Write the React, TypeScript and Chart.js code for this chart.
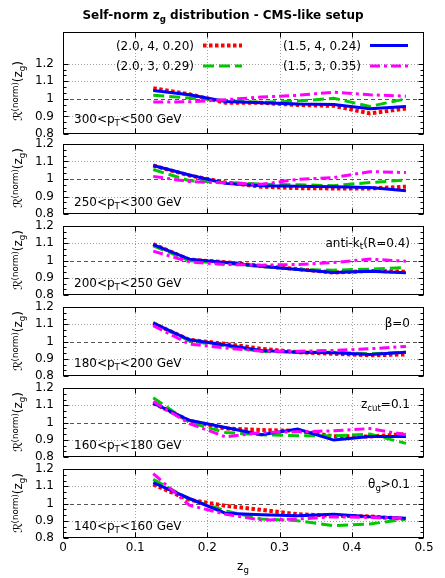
import React, { useEffect, useRef } from 'react';
import { Chart, registerables } from 'chart.js';
Chart.register(...registerables);

const FONT = "'DejaVu Sans', 'Noto Sans', sans-serif";

// ---- data ----
const zgBins = [0.125, 0.175, 0.225, 0.275, 0.325, 0.375, 0.425, 0.475];
const xTickValues = [0, 0.1, 0.2, 0.3, 0.4, 0.5];
const yTickValues = [0.8, 0.9, 1, 1.1, 1.2];
const seriesNames = ['(2.0, 4, 0.20)', '(2.0, 3, 0.29)', '(1.5, 4, 0.24)', '(1.5, 3, 0.35)'];

// A = (2.0, 4, 0.20), B = (2.0, 3, 0.29), C = (1.5, 4, 0.24), D = (1.5, 3, 0.35)
const pt300_500_A = [1.06, 1.026, 0.978, 0.977, 0.965, 0.96, 0.917, 0.945];
const pt300_500_B = [1.02, 1.005, 0.99, 0.98, 0.987, 1.003, 0.957, 1.0];
const pt300_500_C = [1.047, 1.023, 0.985, 0.977, 0.97, 0.968, 0.943, 0.957];
const pt300_500_D = [0.982, 0.983, 0.995, 1.01, 1.02, 1.038, 1.023, 1.015];

const pt250_300_A = [1.077, 1.02, 0.98, 0.956, 0.948, 0.946, 0.946, 0.956];
const pt250_300_B = [1.054, 0.99, 0.98, 0.97, 0.967, 0.962, 0.98, 0.994];
const pt250_300_C = [1.077, 1.023, 0.975, 0.962, 0.958, 0.956, 0.952, 0.933];
const pt250_300_D = [1.015, 0.985, 0.978, 0.97, 0.998, 1.008, 1.042, 1.037];

const pt200_250_A = [1.095, 1.005, 0.99, 0.968, 0.95, 0.93, 0.94, 0.935];
const pt200_250_B = [1.085, 0.998, 0.983, 0.965, 0.948, 0.944, 0.95, 0.96];
const pt200_250_C = [1.092, 1.008, 0.988, 0.967, 0.948, 0.931, 0.938, 0.929];
const pt200_250_D = [1.054, 0.992, 0.977, 0.973, 0.977, 0.988, 1.008, 0.996];

const pt180_200_A = [1.105, 1.01, 0.986, 0.958, 0.938, 0.929, 0.92, 0.925];
const pt180_200_B = [1.11, 1.004, 0.973, 0.942, 0.938, 0.938, 0.929, 0.938];
const pt180_200_C = [1.106, 1.01, 0.98, 0.948, 0.938, 0.935, 0.925, 0.938];
const pt180_200_D = [1.092, 0.985, 0.962, 0.944, 0.944, 0.948, 0.958, 0.971];

const pt160_180_A = [1.112, 1.01, 0.965, 0.956, 0.952, 0.92, 0.919, 0.933];
const pt160_180_B = [1.144, 1.0, 0.942, 0.929, 0.923, 0.923, 0.933, 0.879];
const pt160_180_C = [1.112, 1.013, 0.971, 0.929, 0.962, 0.898, 0.919, 0.919];
const pt160_180_D = [1.121, 0.994, 0.917, 0.942, 0.946, 0.952, 0.965, 0.929];

const pt140_160_A = [1.11, 1.021, 0.987, 0.963, 0.938, 0.929, 0.925, 0.91];
const pt140_160_B = [1.14, 1.025, 0.958, 0.91, 0.9, 0.871, 0.881, 0.91];
const pt140_160_C = [1.121, 1.029, 0.944, 0.935, 0.929, 0.938, 0.923, 0.915];
const pt140_160_D = [1.173, 0.99, 0.938, 0.904, 0.91, 0.923, 0.919, 0.915];

const panelSeries = [
  [pt300_500_A, pt300_500_B, pt300_500_C, pt300_500_D],
  [pt250_300_A, pt250_300_B, pt250_300_C, pt250_300_D],
  [pt200_250_A, pt200_250_B, pt200_250_C, pt200_250_D],
  [pt180_200_A, pt180_200_B, pt180_200_C, pt180_200_D],
  [pt160_180_A, pt160_180_B, pt160_180_C, pt160_180_D],
  [pt140_160_A, pt140_160_B, pt140_160_C, pt140_160_D],
];

const ptRanges = [
  ['300', '500'],
  ['250', '300'],
  ['200', '250'],
  ['180', '200'],
  ['160', '180'],
  ['140', '160'],
];

// ---- styles / layout ----
const seriesStyles = [
  { color: '#ff0000', width: 4, dash: [3.5, 2.5] },
  { color: '#00c800', width: 3, dash: [11, 5] },
  { color: '#0000ff', width: 3, dash: [] as number[] },
  { color: '#ff00ff', width: 3, dash: [10, 4, 3, 4] },
];

const CANVAS_W = 445;
const PLOT_LEFT = 63;
const PLOT_RIGHT = 424;
const PAD = 18;
const XAXIS_H = 22;

const panelLayout = [
  { top: 32, height: 102, yMax: 1.38 },
  { top: 144, height: 70, yMax: 1.2 },
  { top: 226, height: 69, yMax: 1.2 },
  { top: 307, height: 69, yMax: 1.2 },
  { top: 388, height: 69, yMax: 1.2 },
  { top: 469, height: 69, yMax: 1.2 },
];

const leftLabelY = [119, 202, 283, 363, 445, 526];
const ylabelY = [91, 178, 260, 341, 422, 503];

function line(ctx: CanvasRenderingContext2D, x1: number, y1: number, x2: number, y2: number) {
  ctx.beginPath();
  ctx.moveTo(x1, y1);
  ctx.lineTo(x2, y2);
  ctx.stroke();
}

const framePlugin = {
  id: 'gnuFrame',
  beforeDatasetsDraw(chart: any) {
    const { ctx, chartArea: a } = chart;
    const x = chart.scales.x;
    const y = chart.scales.y;
    ctx.save();
    ctx.lineWidth = 1;
    ctx.strokeStyle = '#a0a0a0';
    ctx.setLineDash([1, 2]);
    for (const v of xTickValues) {
      if (v <= x.min || v >= x.max) continue;
      const px = Math.round(x.getPixelForValue(v)) + 0.5;
      line(ctx, px, a.top, px, a.bottom);
    }
    for (const v of yTickValues) {
      if (v <= y.min || v >= y.max || v === 1) continue;
      const py = Math.round(y.getPixelForValue(v)) + 0.5;
      line(ctx, a.left, py, a.right, py);
    }
    ctx.strokeStyle = '#555555';
    ctx.setLineDash([4, 3]);
    const p1 = Math.round(y.getPixelForValue(1)) + 0.5;
    line(ctx, a.left, p1, a.right, p1);
    ctx.restore();
  },
  afterDatasetsDraw(chart: any) {
    const { ctx, chartArea: a } = chart;
    const x = chart.scales.x;
    const y = chart.scales.y;
    ctx.save();
    ctx.lineWidth = 1;
    ctx.strokeStyle = '#000';
    ctx.setLineDash([]);
    const L = Math.round(a.left) + 0.5;
    const R = Math.round(a.right) - 0.5;
    const T = Math.round(a.top) + 0.5;
    const B = Math.round(a.bottom) - 0.5;
    ctx.strokeRect(L, T, R - L, B - T);
    for (let i = 0; i < yTickValues.length; i++) {
      const v = yTickValues[i];
      const py = Math.round(y.getPixelForValue(v)) + 0.5;
      line(ctx, L, py, L + 5, py);
      line(ctx, R, py, R - 5, py);
      if (i < yTickValues.length - 1) {
        const step = (yTickValues[i + 1] - v) / 3;
        for (let k = 1; k < 3; k++) {
          const pm = Math.round(y.getPixelForValue(v + k * step)) + 0.5;
          line(ctx, L, pm, L + 3, pm);
          line(ctx, R, pm, R - 3, pm);
        }
      }
    }
    for (const v of xTickValues) {
      if (v <= x.min || v >= x.max) continue;
      const px = Math.round(x.getPixelForValue(v)) + 0.5;
      line(ctx, px, B, px, B - 5);
      line(ctx, px, T, px, T + 5);
    }
    ctx.restore();
  },
};

const legendPlugin = {
  id: 'gnuLegend',
  afterDatasetsDraw(chart: any) {
    const ctx = chart.ctx;
    const offTop = panelLayout[0].top - PAD;
    const rows = [45.5, 66];
    const cols = [[203, 242], [370, 408]];
    ctx.save();
    [0, 1, 2, 3].forEach((s) => {
      const col = Math.floor(s / 2);
      const row = s % 2;
      const st = seriesStyles[s];
      ctx.strokeStyle = st.color;
      ctx.lineWidth = st.width;
      ctx.setLineDash(st.dash);
      const yy = rows[row] - offTop;
      line(ctx, cols[col][0], yy, cols[col][1], yy);
    });
    ctx.restore();
  },
};

function PanelChart({ idx }: { idx: number }) {
  const ref = useRef<HTMLCanvasElement>(null);
  const lay = panelLayout[idx];
  const isBottom = idx === panelLayout.length - 1;
  const canvasH = lay.height + 2 * PAD + (isBottom ? XAXIS_H : 0);
  useEffect(() => {
    if (!ref.current) return;
    const values = panelSeries[idx];
    const datasets = [3, 2, 1, 0].map((s) => ({
      label: seriesNames[s],
      data: zgBins.map((xv, i) => ({ x: xv, y: values[s][i] })),
      borderColor: seriesStyles[s].color,
      backgroundColor: seriesStyles[s].color,
      borderWidth: seriesStyles[s].width,
      borderDash: seriesStyles[s].dash,
      pointRadius: 0,
      fill: false,
      tension: 0,
    }));
    const plugins: any[] = [framePlugin];
    if (idx === 0) plugins.push(legendPlugin);
    const chart = new Chart(ref.current, {
      type: 'line',
      data: { datasets },
      plugins,
      options: {
        responsive: false,
        maintainAspectRatio: false,
        animation: false,
        devicePixelRatio: 1,
        events: [],
        layout: { padding: { left: 8, right: CANVAS_W - PLOT_RIGHT, top: PAD, bottom: PAD } },
        plugins: { legend: { display: false }, tooltip: { enabled: false } },
        scales: {
          x: {
            type: 'linear',
            min: 0,
            max: 0.5,
            display: isBottom,
            afterBuildTicks: (s: any) => {
              s.ticks = xTickValues.map((v) => ({ value: v }));
            },
            afterFit: (s: any) => {
              s.height = isBottom ? XAXIS_H : 0;
            },
            ticks: {
              autoSkip: false,
              maxRotation: 0,
              padding: 3,
              color: '#000',
              font: { family: FONT, size: 12 },
              callback: (v: any) => String(v),
            },
            grid: { display: false, drawTicks: false },
            border: { display: false },
          },
          y: {
            type: 'linear',
            min: 0.8,
            max: lay.yMax,
            afterBuildTicks: (s: any) => {
              s.ticks = yTickValues.map((v) => ({ value: v }));
            },
            afterFit: (s: any) => {
              s.width = PLOT_LEFT - 8;
            },
            ticks: {
              autoSkip: false,
              padding: 9,
              color: '#000',
              font: { family: FONT, size: 12 },
              callback: (v: any) => String(v),
            },
            grid: { display: false, drawTicks: false },
            border: { display: false },
          },
        },
      } as any,
    });
    return () => chart.destroy();
  }, [idx]);
  return (
    <canvas
      ref={ref}
      width={CANVAS_W}
      height={canvasH}
      style={{ position: 'absolute', left: 0, top: lay.top - PAD, width: CANVAS_W, height: canvasH }}
    />
  );
}

const Sub = ({ children }: { children: React.ReactNode }) => (
  <span style={{ fontSize: '0.72em', position: 'relative', top: '0.33em' }}>{children}</span>
);
const Sup = ({ children }: { children: React.ReactNode }) => (
  <span style={{ fontSize: '0.72em', position: 'relative', top: '-0.45em' }}>{children}</span>
);

function Txt({
  x,
  y,
  align = 'left',
  size = 12,
  bold = false,
  children,
}: {
  x: number;
  y: number;
  align?: 'left' | 'right' | 'center';
  size?: number;
  bold?: boolean;
  children: React.ReactNode;
}) {
  const tx = align === 'right' ? '-100%' : align === 'center' ? '-50%' : '0';
  return (
    <div
      style={{
        position: 'absolute',
        left: x,
        top: y,
        transform: `translate(${tx}, -50%)`,
        whiteSpace: 'nowrap',
        fontSize: size,
        fontWeight: bold ? 'bold' : 'normal',
        lineHeight: `${size + 2}px`,
        color: '#000',
      }}
    >
      {children}
    </div>
  );
}

function YLabel({ y }: { y: number }) {
  return (
    <div
      style={{
        position: 'absolute',
        left: 18,
        top: y,
        transform: 'translate(-50%, -50%) rotate(-90deg)',
        whiteSpace: 'nowrap',
        fontSize: 12,
        lineHeight: '14px',
        color: '#000',
      }}
    >
      ℛ<Sup>(norm)</Sup>(z<Sub>g</Sub>)
    </div>
  );
}

export default function App() {
  return (
    <div
      style={{
        position: 'absolute',
        left: 0,
        top: 0,
        width: 445,
        height: 578,
        background: '#fff',
        fontFamily: FONT,
        overflow: 'hidden',
      }}
    >
      {panelLayout.map((_, i) => (
        <PanelChart key={i} idx={i} />
      ))}
      <Txt x={223} y={15} align="center" bold size={12}>
        Self-norm z<Sub>g</Sub> distribution - CMS-like setup
      </Txt>
      {ylabelY.map((y, i) => (
        <YLabel key={i} y={y} />
      ))}
      {ptRanges.map((r, i) => (
        <Txt key={i} x={74} y={leftLabelY[i]}>
          {r[0]}&lt;p<Sub>T</Sub>&lt;{r[1]} GeV
        </Txt>
      ))}
      <Txt x={194} y={45.5} align="right">{seriesNames[0]}</Txt>
      <Txt x={194} y={66} align="right">{seriesNames[1]}</Txt>
      <Txt x={361} y={45.5} align="right">{seriesNames[2]}</Txt>
      <Txt x={361} y={66} align="right">{seriesNames[3]}</Txt>
      <Txt x={410} y={242.5} align="right">
        anti-k<Sub>t</Sub>(R=0.4)
      </Txt>
      <Txt x={410} y={323} align="right">β=0</Txt>
      <Txt x={410} y={404} align="right">
        z<Sub>cut</Sub>=0.1
      </Txt>
      <Txt x={410} y={484} align="right">
        θ<Sub>g</Sub>&gt;0.1
      </Txt>
      <Txt x={243} y={566} align="center">
        z<Sub>g</Sub>
      </Txt>
    </div>
  );
}
